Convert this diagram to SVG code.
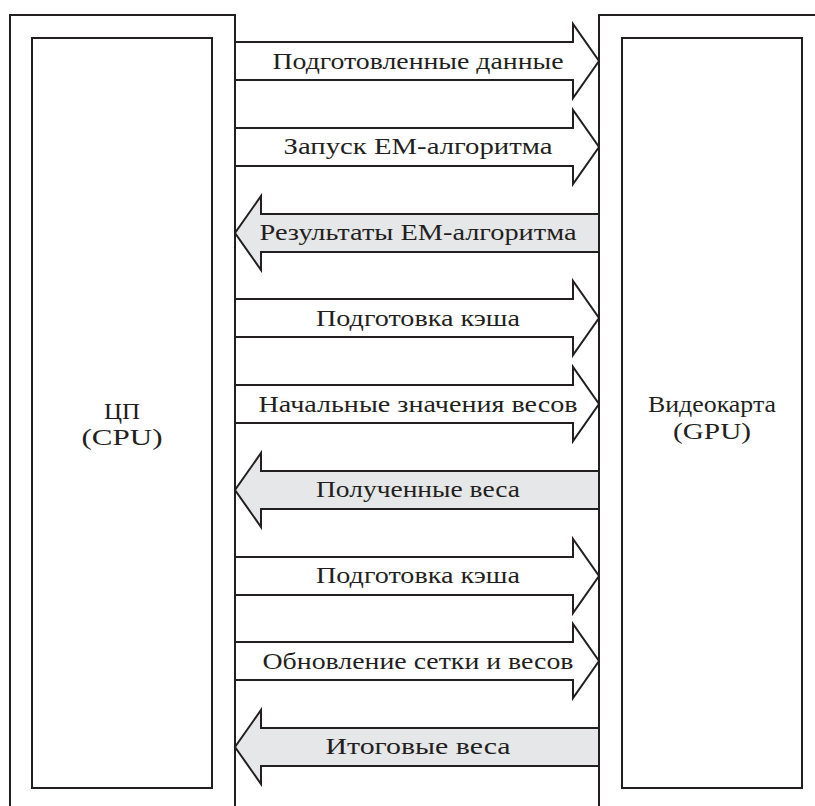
<svg xmlns="http://www.w3.org/2000/svg" width="815" height="806" viewBox="0 0 815 806">
<style>
.frame{fill:none;stroke:#231f20;stroke-width:2}
.box{fill:#fff;stroke:#231f20;stroke-width:2}
.ar{fill:#fff;stroke:#231f20;stroke-width:2;stroke-linejoin:miter}
.al{fill:#e6e7e8;stroke:#231f20;stroke-width:2;stroke-linejoin:miter}
text{font-family:"Liberation Serif",serif;font-size:24px;fill:#231f20;text-anchor:middle}
</style>
<rect width="815" height="806" fill="#fff"/>
<g id="cpu">
<path class="frame" d="M10,806 V15 H235 V806"/>
<rect class="box" x="32" y="38" width="180" height="750"/>
<text x="122" y="419" textLength="36" lengthAdjust="spacingAndGlyphs">ЦП</text>
<text x="122" y="445" textLength="81" lengthAdjust="spacingAndGlyphs">(CPU)</text>
</g>
<g id="gpu">
<path class="frame" d="M599,806 V15 H815"/>
<rect class="box" x="622" y="38" width="180" height="750"/>
<text x="712" y="412" textLength="128" lengthAdjust="spacingAndGlyphs">Видеокарта</text>
<text x="712" y="439" textLength="78" lengthAdjust="spacingAndGlyphs">(GPU)</text>
</g>
<g id="connectors">
<g id="a1"><polygon class="ar" points="235,42 573,42 573,24 599,61 573,98 573,80 235,80"/>
<text x="418" y="69" textLength="291" lengthAdjust="spacingAndGlyphs">Подготовленные данные</text></g>
<g id="a2"><polygon class="ar" points="235,128 573,128 573,110 599,147 573,184 573,166 235,166"/>
<text x="418" y="154" textLength="269" lengthAdjust="spacingAndGlyphs">Запуск ЕМ-алгоритма</text></g>
<g id="a3"><polygon class="al" points="599,214 261,214 261,196 235,233 261,270 261,252 599,252"/>
<text x="418" y="240" textLength="317" lengthAdjust="spacingAndGlyphs">Результаты ЕМ-алгоритма</text></g>
<g id="a4"><polygon class="ar" points="235,299 573,299 573,281 599,318 573,355 573,337 235,337"/>
<text x="418" y="326" textLength="204" lengthAdjust="spacingAndGlyphs">Подготовка кэша</text></g>
<g id="a5"><polygon class="ar" points="235,385 573,385 573,367 599,404 573,441 573,423 235,423"/>
<text x="418" y="412" textLength="319" lengthAdjust="spacingAndGlyphs">Начальные значения весов</text></g>
<g id="a6"><polygon class="al" points="599,471 261,471 261,453 235,490 261,527 261,509 599,509"/>
<text x="418" y="497" textLength="204" lengthAdjust="spacingAndGlyphs">Полученные веса</text></g>
<g id="a7"><polygon class="ar" points="235,557 573,557 573,539 599,576 573,613 573,595 235,595"/>
<text x="418" y="583" textLength="204" lengthAdjust="spacingAndGlyphs">Подготовка кэша</text></g>
<g id="a8"><polygon class="ar" points="235,642 573,642 573,624 599,661 573,698 573,680 235,680"/>
<text x="418" y="669" textLength="311" lengthAdjust="spacingAndGlyphs">Обновление сетки и весов</text></g>
<g id="a9"><polygon class="al" points="599,728 261,728 261,710 235,747 261,784 261,766 599,766"/>
<text x="418" y="754" textLength="185" lengthAdjust="spacingAndGlyphs">Итоговые веса</text></g>
</g>
</svg>
